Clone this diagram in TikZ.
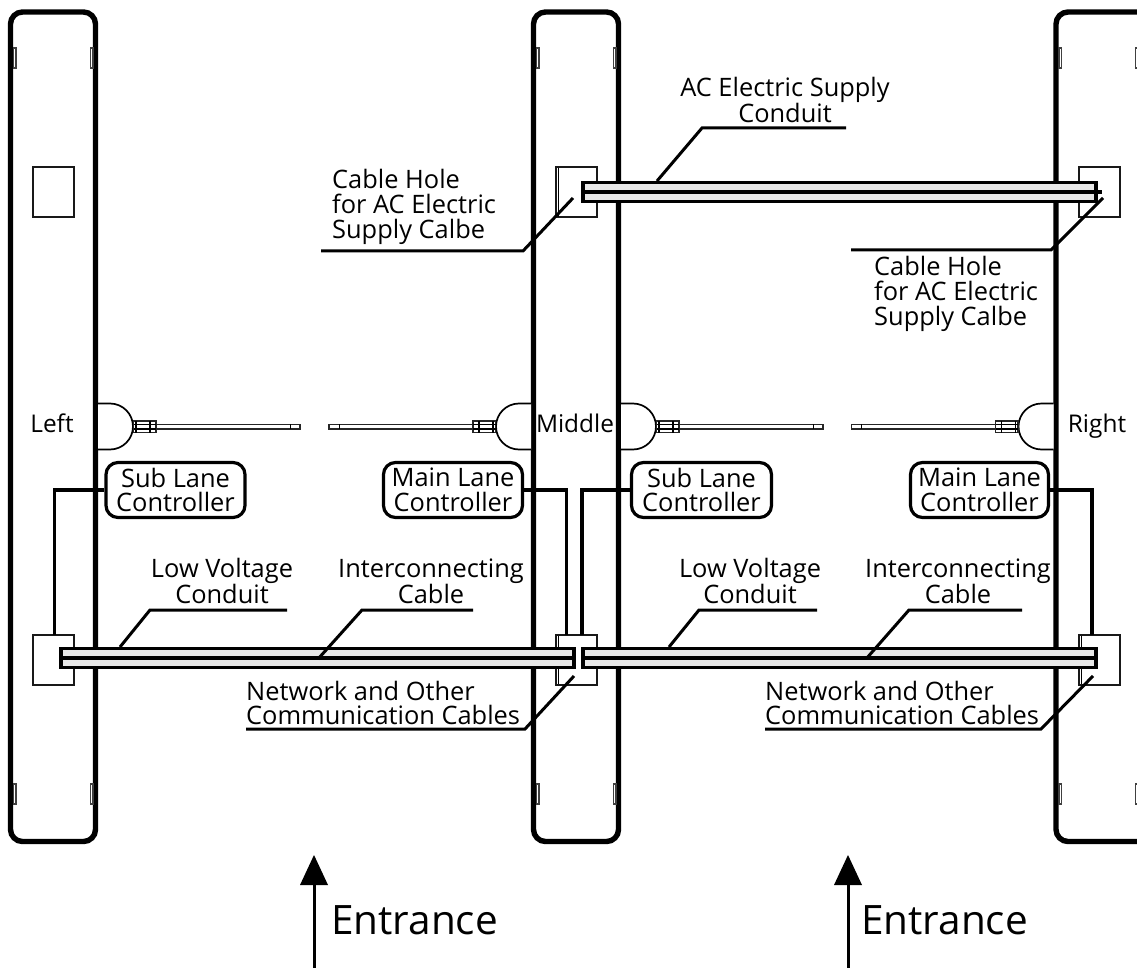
\documentclass[tikz,border=0pt]{standalone}
\usepackage{fontspec}
\setmainfont{Open Sans}
\usetikzlibrary{calc}
\definecolor{conduitfill}{HTML}{E8E8E8}
\tikzset{
  wall/.style={line width=5.4pt,rounded corners=12pt},
  tab/.style={line width=1.1pt,draw=black!75},
  jbox/.style={draw=black!90,line width=2pt,fill=white,minimum width=41pt,minimum height=50pt,inner sep=0pt},
  ctrl/.style={draw,line width=3.2pt,fill=white,rounded corners=12pt,minimum height=55pt,inner sep=0pt,align=center,font=\lbl},
  wire/.style={line width=3.2pt},
  leader/.style={line width=3pt},
  conduit/.style={draw,line width=3.4pt,fill=conduitfill,minimum height=19.5pt,inner sep=0pt},
  core/.style={line width=3.2pt},
  lbl/.style={inner sep=0pt,align=center,font=\lbl},
  wlbl/.style={inner sep=0pt,anchor=base,font=\fontsize{24.4}{25}\selectfont},
  entr/.style={inner sep=0pt,anchor=west,font=\fontsize{40.5}{45}\selectfont},
  doorline/.style={line width=1.7pt},
  arm/.style={line width=1.2pt,draw=black!85,fill=white}
}
\newcommand{\lbl}{\fontsize{25.4}{24.8}\selectfont}
\newcommand{\gate}[2]{%
 \begin{scope}[shift={(#1,426.5)},xscale=#2]
  \draw[doorline,fill=white] (0,-23) -- (12,-23) .. controls (24.7,-23) and (35,-12.7) .. (35,0) .. controls (35,12.7) and (24.7,23) .. (12,23) -- (0,23);
  \draw[arm] (58,-2.4) rectangle (202,2.4);
  \draw[line width=.8pt] (192,-2.4) -- (192,2.4);
  \draw[arm,line width=1.5pt] (35.5,-5.5) rectangle (58,6);
  \draw[line width=1.2pt] (35.5,-2.2) -- (58,-2.2) (35.5,2.5) -- (58,2.5);
  \draw[line width=1.4pt] (38,-5.5) -- (38,6) (52,-5.5) -- (52,6);
 \end{scope}}
\newcommand{\tabs}[1]{%
  \draw[tab] (#1,48) rectangle ++(2.5,20);
  \draw[tab] (#1,784) rectangle ++(2.5,20);}
\begin{document}
\begin{tikzpicture}[x=1pt,y=-1pt]
\useasboundingbox (0,0) rectangle (1137,968);
% pillars
\draw[wall] (10.5,12) rectangle (95.5,841.5);
\draw[wall] (533.5,12) rectangle (618.5,841.5);
\draw[wall] (1137.5+20,12) -- (1056,12) -- (1056,841.5) -- (1137.5+20,841.5);
\tabs{13.5}\tabs{90.5}\tabs{536.5}\tabs{613.5}\tabs{1059}\tabs{1135.5}
% gates
\gate{98}{1}\gate{531}{-1}\gate{621}{1}\gate{1053.5}{-1}
% junction boxes
\node[jbox] (boxA) at (53.5,192.5) {};
\node[jbox] (boxB) at (576,192.5) {};
\draw[line width=1pt] (558.5,168) -- (558.5,217);
\node[jbox] (boxC) at (1099,192.5) {};
\node[jbox] (boxD) at (53.5,660) {};
\node[jbox] (boxE) at (576,660) {};
\draw[line width=1pt] (558.5,636) -- (558.5,684);
\node[jbox] (boxF) at (1099,660) {};
\draw[line width=1pt] (1081.5,636) -- (1081.5,684);
% wall labels
\node[wlbl] (left) at (52,432) {Left};
\node[wlbl] (middle) at (575,432) {Middle};
\node[wlbl] (right) at (1097,432) {Right};
% controllers
\node[ctrl,minimum width=139pt] (sub1) at (175.5,490) {Sub Lane\\Controller};
\node[ctrl,minimum width=139pt] (main1) at (453,490) {Main Lane\\Controller};
\node[ctrl,minimum width=140pt] (sub2) at (701.5,490) {Sub Lane\\Controller};
\node[ctrl,minimum width=138pt] (main2) at (979.5,490) {Main Lane\\Controller};
% wires
\draw[wire] (sub1.west) -- (54.5,490) -- (54.5,635);
\draw[wire] (main1.east) -- (566.5,490) -- (566.5,635);
\draw[wire] (sub2.west) -- (582,490) -- (582,635);
\draw[wire] (main2.east) -- (1092,490) -- (1092,635);
% conduits
\node[conduit,minimum width=513pt] (c1) at (317.5,658) {};
\node[conduit,minimum width=513pt] (c2) at (839.5,658) {};
\node[conduit,minimum width=513pt] (c3) at (839.5,192) {};
\draw[core] (c1.west) -- (c1.east);
\draw[core] (c2.west) -- (c2.east);
\draw[core] (c3.west) -- ($(c3.east)+(4,0)$);
% leaders
\draw[leader] (120,647) -- (150,610) -- (287,610);
\draw[leader] (318,659) -- (362,610) -- (473,610);
\draw[leader] (669,647) -- (699,610) -- (817,610);
\draw[leader] (866,659) -- (909,610) -- (1022,610);
\draw[leader] (574,676) -- (525,729) -- (246,729);
\draw[leader] (1093,676) -- (1041,729) -- (765,729);
\draw[leader] (573,198) -- (523,251) -- (321,251);
\draw[leader] (1103,198) -- (1051,250) -- (851,250);
\draw[leader] (657,181) -- (702,128) -- (846,128);
% labels
\node[lbl] (t1) at (222,581) {Low Voltage\\Conduit};
\node[lbl] (t2) at (431,581) {Interconnecting\\Cable};
\node[lbl] (t3) at (750,581) {Low Voltage\\Conduit};
\node[lbl] (t4) at (958,581) {Interconnecting\\Cable};
\node[lbl,align=left,anchor=west] (t5) at (246,703) {Network and Other\\Communication Cables};
\node[lbl,align=left,anchor=west] (t6) at (765,703) {Network and Other\\Communication Cables};
\node[lbl,align=left,anchor=west] (t7) at (332,207) {Cable Hole\\for AC Electric\\Supply Calbe};
\node[lbl,align=left,anchor=west] (t8) at (874,294) {Cable Hole\\for AC Electric\\Supply Calbe};
\node[lbl] (t9) at (785,100) {AC Electric Supply\\Conduit};
% entrance arrows
\node[entr] (e1) at (331,920) {Entrance};
\node[entr] (e2) at (861,920) {Entrance};
\coordinate (a1) at (314,968); \coordinate (a2) at (848,968);
\draw[line width=3pt] (a1) -- ++(0,-90);
\draw[line width=3pt] (a2) -- ++(0,-90);
\fill (300,885) -- (314,855) -- (328,885) -- cycle;
\fill (834,885) -- (848,855) -- (862,885) -- cycle;
\end{tikzpicture}
\end{document}
